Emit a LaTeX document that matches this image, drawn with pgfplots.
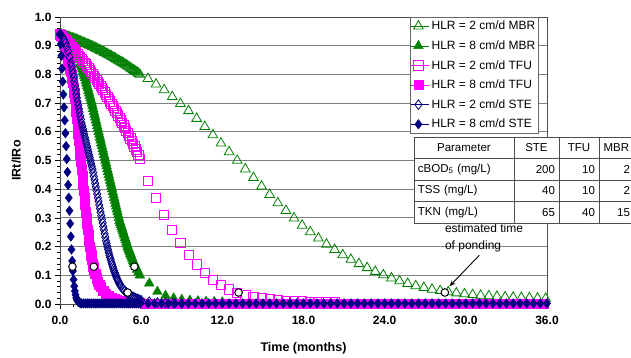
\documentclass[border=0pt]{standalone}
\usepackage{pgfplots}
\pgfplotsset{compat=1.18}
\usepackage{fontspec}
\setmainfont{Liberation Sans}
\usetikzlibrary{matrix,arrows.meta}
\definecolor{mgreen}{RGB}{0,128,0}
\definecolor{mmag}{RGB}{255,0,255}
\definecolor{mnavy}{RGB}{0,0,128}
\definecolor{gridgray}{RGB}{128,128,128}
\begin{document}
\begin{tikzpicture}
\useasboundingbox (-60pt,-54pt) rectangle (571pt,304pt);
\begin{axis}[
 at={(0,0)}, anchor=south west,
 scale only axis, width=487pt, height=287pt,
 xmin=0, xmax=36, ymin=0, ymax=1,
 clip=false,
 xtick={0,6,12,18,24,30,36},
 ytick={0,0.1,0.2,0.3,0.4,0.5,0.6,0.7,0.8,0.9,1},
 minor x tick num=5, minor y tick num=4,
 tick pos=left, tick align=outside,
 major tick length=5pt, minor tick length=3pt,
 ymajorgrids, grid style={gridgray, line width=0.8pt},
 axis line style={gridgray!60!black, line width=0.8pt},
 tick style={black, line width=0.6pt},
 /pgf/number format/fixed, /pgf/number format/fixed zerofill,
 /pgf/number format/precision=1, /pgf/number format/assume math mode=true,
 tick label style={font=\bfseries\fontsize{12}{14}\selectfont},
 xticklabel style={yshift=-4pt},
 xlabel={Time (months)}, ylabel={IRt/IRo},
 label style={font=\bfseries\fontsize{12.5}{14}\selectfont},
 xlabel style={at={(axis description cs:0.5,-0.153)}, anchor=center},
 ylabel style={at={(axis description cs:-0.09,0.5)}, anchor=center},
 legend style={at={(rel axis cs:0.7187,1)}, anchor=north west, draw=gray!80!black, fill=white,
   font=\fontsize{12}{14}\selectfont, inner xsep=1pt, inner ysep=2pt, row sep=5.4pt},
 legend cell align=left,
 legend image code/.code={\path (0pt,0pt) -- (18pt,0pt); \draw[#1] plot coordinates {(7pt,0pt)};},
]
% HLR = 2 cm/d MBR
\addplot[only marks, mark=triangle, mark size=5.6pt, mgreen, mark options={line width=0.8pt}] coordinates {
(0,0.940)(0.1,0.939)(0.2,0.937)(0.3,0.936)(0.4,0.934)(0.5,0.933)(0.6,0.931)(0.7,0.929)(0.8,0.928)(0.9,0.926)(1.0,0.925)(1.1,0.923)(1.2,0.921)(1.3,0.919)(1.4,0.917)(1.5,0.915)(1.6,0.913)(1.7,0.911)(1.8,0.909)(1.9,0.907)(2.0,0.905)(2.1,0.903)(2.2,0.901)(2.3,0.899)(2.4,0.897)(2.5,0.895)(2.6,0.892)(2.7,0.890)(2.8,0.888)(2.9,0.885)(3.0,0.883)(3.1,0.881)(3.2,0.878)(3.3,0.876)(3.4,0.873)(3.5,0.871)(3.6,0.868)(3.7,0.866)(3.8,0.863)(3.9,0.860)(4.0,0.858)(4.1,0.855)(4.2,0.852)(4.3,0.849)(4.4,0.846)(4.5,0.844)(4.6,0.841)(4.7,0.838)(4.8,0.835)(4.9,0.832)(5.0,0.829)(5.1,0.826)(5.2,0.822)(5.3,0.819)(5.4,0.816)(5.5,0.813)(5.6,0.810)(5.7,0.807)(5.8,0.803)(5.9,0.800)
(6.5,0.785)(7.1,0.766)(7.7,0.746)(8.3,0.722)(8.9,0.698)(9.5,0.673)(10.1,0.646)(10.7,0.618)(11.3,0.589)(11.9,0.560)(12.5,0.530)(13.1,0.500)(13.7,0.470)(14.3,0.440)(14.9,0.410)(15.5,0.381)(16.1,0.352)(16.7,0.325)(17.3,0.299)(17.9,0.274)(18.5,0.251)(19.1,0.229)(19.7,0.208)(20.3,0.189)(20.9,0.171)(21.5,0.155)(22.1,0.140)(22.7,0.126)(23.3,0.113)(23.9,0.101)(24.5,0.090)(25.1,0.080)(25.7,0.071)(26.3,0.063)(26.9,0.057)(27.5,0.051)(28.1,0.046)(28.7,0.042)(29.3,0.038)(29.9,0.035)(30.5,0.032)(31.1,0.030)(31.7,0.028)(32.3,0.026)(32.9,0.024)(33.5,0.023)(34.1,0.022)(34.7,0.021)(35.3,0.020)(35.9,0.019)
};
\addlegendentry{HLR = 2 cm/d MBR}
% HLR = 8 cm/d MBR
\addplot[only marks, mark=triangle*, mark size=5.6pt, mgreen, mark options={fill=mgreen}] coordinates {
(0.0,0.940)(0.1,0.938)(0.2,0.935)(0.3,0.933)(0.4,0.930)(0.5,0.925)(0.6,0.920)(0.7,0.915)(0.8,0.910)(0.9,0.903)(1.0,0.895)(1.1,0.885)(1.2,0.875)(1.3,0.863)(1.4,0.850)(1.5,0.838)(1.55,0.832)(1.6,0.825)(1.65,0.818)(1.7,0.810)(1.75,0.803)(1.8,0.795)(1.85,0.787)(1.9,0.778)(1.95,0.769)(2.0,0.760)(2.05,0.752)(2.1,0.743)(2.15,0.734)(2.2,0.725)(2.25,0.717)(2.3,0.708)(2.35,0.699)(2.4,0.690)(2.45,0.680)(2.5,0.670)(2.55,0.660)(2.6,0.650)(2.65,0.640)(2.7,0.630)(2.75,0.620)(2.8,0.610)(2.85,0.600)(2.9,0.590)(2.95,0.580)(3.0,0.570)(3.05,0.560)(3.1,0.550)(3.15,0.540)(3.2,0.530)(3.25,0.520)(3.3,0.510)(3.35,0.500)(3.4,0.490)(3.45,0.480)(3.5,0.470)(3.55,0.460)(3.6,0.450)(3.65,0.440)(3.7,0.430)(3.75,0.420)(3.8,0.410)(3.85,0.400)(3.9,0.390)(3.95,0.380)(4.0,0.370)(4.05,0.360)(4.1,0.350)(4.15,0.340)(4.2,0.330)(4.25,0.320)(4.3,0.310)(4.35,0.300)(4.4,0.290)(4.45,0.283)(4.5,0.275)(4.55,0.268)(4.6,0.260)(4.65,0.253)(4.7,0.245)(4.75,0.238)(4.8,0.230)(4.85,0.223)(4.9,0.215)(4.95,0.208)(5.0,0.200)(5.05,0.194)(5.1,0.188)(5.15,0.182)(5.2,0.175)(5.25,0.169)(5.3,0.163)(5.35,0.157)(5.4,0.150)(5.45,0.145)(5.5,0.140)(5.6,0.130)(5.7,0.120)(5.8,0.110)(5.9,0.100)
(6.6,0.072)(7.2,0.043)(7.8,0.029)(8.4,0.020)(9.0,0.015)(9.6,0.012)(10.2,0.010)(10.8,0.008)(11.4,0.007)(12.0,0.006)
};
\addlegendentry{HLR = 8 cm/d MBR}
% HLR = 2 cm/d TFU
\addplot[only marks, mark=square, mark size=4.6pt, mmag, mark options={line width=0.8pt}] coordinates {
(0.0,0.940)(0.1,0.935)(0.2,0.930)(0.3,0.925)(0.4,0.920)(0.5,0.915)(0.6,0.910)(0.7,0.905)(0.8,0.899)(0.9,0.894)(1.0,0.888)(1.1,0.883)(1.2,0.877)(1.3,0.871)(1.4,0.865)(1.5,0.859)(1.6,0.853)(1.7,0.847)(1.8,0.841)(1.9,0.835)(2.0,0.828)(2.1,0.822)(2.2,0.815)(2.3,0.808)(2.4,0.802)(2.5,0.795)(2.6,0.788)(2.7,0.781)(2.8,0.774)(2.9,0.767)(3.0,0.759)(3.1,0.752)(3.2,0.745)(3.3,0.737)(3.4,0.729)(3.5,0.721)(3.6,0.714)(3.7,0.706)(3.8,0.698)(3.9,0.690)(4.0,0.682)(4.1,0.673)(4.2,0.665)(4.3,0.657)(4.4,0.648)(4.5,0.640)(4.6,0.631)(4.7,0.622)(4.8,0.613)(4.9,0.604)(5.0,0.595)(5.1,0.586)(5.2,0.577)(5.3,0.568)(5.4,0.558)(5.5,0.549)(5.6,0.539)(5.7,0.530)(5.8,0.519)(5.9,0.505)
(6.5,0.430)(7.1,0.370)(7.7,0.310)(8.3,0.258)(8.9,0.212)(9.5,0.172)(10.1,0.138)(10.7,0.108)(11.3,0.084)(11.9,0.066)(12.5,0.051)(13.1,0.040)(13.7,0.032)(14.3,0.026)(14.9,0.021)(15.5,0.017)(16.1,0.014)(16.7,0.012)(17.3,0.010)(17.9,0.009)(18.5,0.008)(19.1,0.007)(19.7,0.006)(20.3,0.006)
};
\addlegendentry{HLR = 2 cm/d TFU}
% HLR = 8 cm/d TFU
\addplot[only marks, mark=square*, mark size=4.6pt, mmag, mark options={fill=mmag}] coordinates {
(0.0,0.940)(0.1,0.930)(0.2,0.920)(0.3,0.905)(0.4,0.890)(0.5,0.870)(0.6,0.850)(0.65,0.840)(0.70,0.830)(0.75,0.820)(0.80,0.810)(0.85,0.800)(0.90,0.785)(0.95,0.770)(1.00,0.755)(1.05,0.735)(1.10,0.715)(1.15,0.695)(1.20,0.670)(1.25,0.645)(1.30,0.620)(1.35,0.595)(1.40,0.570)(1.45,0.545)(1.50,0.520)(1.55,0.495)(1.60,0.470)(1.65,0.445)(1.70,0.420)(1.75,0.395)(1.80,0.370)(1.85,0.345)(1.90,0.320)(1.95,0.300)(2.00,0.280)(2.05,0.260)(2.10,0.240)(2.15,0.220)(2.20,0.200)(2.25,0.185)(2.30,0.170)(2.35,0.155)(2.40,0.140)(2.45,0.130)(2.50,0.120)(2.6,0.105)(2.7,0.090)(2.8,0.078)(2.9,0.068)(3.0,0.060)(3.2,0.047)(3.4,0.037)(3.6,0.029)(3.8,0.023)(4.0,0.018)(4.2,0.014)(4.4,0.011)(4.6,0.009)(4.8,0.007)(5.0,0.006)(5.3,0.005)(5.6,0.004)(5.9,0.004)
(6.25,0.0)(6.75,0.0)(7.25,0.0)(7.75,0.0)(8.25,0.0)(8.75,0.0)(9.25,0.0)(9.75,0.0)(10.25,0.0)(10.75,0.0)(11.25,0.0)(11.75,0.0)(12.25,0.0)(12.75,0.0)(13.25,0.0)(13.75,0.0)(14.25,0.0)(14.75,0.0)(15.25,0.0)(15.75,0.0)(16.25,0.0)(16.75,0.0)(17.25,0.0)(17.75,0.0)(18.25,0.0)(18.75,0.0)(19.25,0.0)(19.75,0.0)(20.25,0.0)(20.75,0.0)(21.25,0.0)(21.75,0.0)(22.25,0.0)(22.75,0.0)(23.25,0.0)(23.75,0.0)(24.25,0.0)(24.75,0.0)(25.25,0.0)(25.75,0.0)(26.25,0.0)(26.75,0.0)(27.25,0.0)(27.75,0.0)(28.25,0.0)(28.75,0.0)(29.25,0.0)(29.75,0.0)(30.25,0.0)(30.75,0.0)(31.25,0.0)(31.75,0.0)(32.25,0.0)(32.75,0.0)(33.25,0.0)(33.75,0.0)(34.25,0.0)(34.75,0.0)(35.25,0.0)(35.75,0.0)
};
\addlegendentry{HLR = 8 cm/d TFU}
% HLR = 2 cm/d STE
\addplot[only marks, mark=diamond, mark size=4.8pt, mnavy, mark options={line width=0.8pt}] coordinates {
(0.0,0.940)(0.1,0.935)(0.2,0.930)(0.3,0.920)(0.4,0.910)(0.5,0.895)(0.6,0.880)(0.7,0.860)(0.8,0.840)(0.85,0.828)(0.9,0.815)(0.95,0.803)(1.0,0.790)(1.05,0.775)(1.1,0.760)(1.15,0.745)(1.2,0.730)(1.25,0.718)(1.3,0.705)(1.35,0.693)(1.4,0.680)(1.45,0.668)(1.5,0.655)(1.55,0.643)(1.6,0.630)(1.65,0.620)(1.7,0.610)(1.75,0.600)(1.8,0.590)(1.85,0.580)(1.9,0.570)(1.95,0.560)(2.0,0.550)(2.05,0.540)(2.1,0.530)(2.15,0.520)(2.2,0.510)(2.25,0.500)(2.3,0.490)(2.35,0.480)(2.4,0.470)(2.45,0.458)(2.5,0.445)(2.55,0.433)(2.6,0.420)(2.65,0.408)(2.7,0.395)(2.75,0.383)(2.8,0.370)(2.85,0.358)(2.9,0.345)(2.95,0.333)(3.0,0.320)(3.05,0.308)(3.1,0.295)(3.15,0.283)(3.2,0.270)(3.25,0.258)(3.3,0.245)(3.35,0.233)(3.4,0.220)(3.45,0.210)(3.5,0.200)(3.55,0.190)(3.6,0.180)(3.65,0.171)(3.7,0.162)(3.75,0.154)(3.8,0.145)(3.85,0.138)(3.9,0.130)(3.95,0.123)(4.0,0.115)(4.05,0.109)(4.1,0.102)(4.15,0.096)(4.2,0.090)(4.25,0.085)(4.3,0.080)(4.35,0.075)(4.4,0.070)(4.45,0.066)(4.5,0.062)(4.6,0.055)(4.7,0.050)(4.8,0.045)(4.9,0.041)(5.0,0.037)(5.1,0.033)(5.2,0.030)(5.3,0.027)(5.4,0.025)(5.5,0.022)(5.6,0.020)(5.7,0.018)(5.8,0.016)(5.9,0.014)(6.0,0.013)
(6.6,0.008)(7.2,0.005)(7.8,0.004)(8.4,0.003)(9.0,0.002)
};
\addlegendentry{HLR = 2 cm/d STE}
% HLR = 8 cm/d STE
\addplot[only marks, mark=diamond*, mark size=4.8pt, mnavy, mark options={fill=mnavy}] coordinates {
(0.00,0.940)(0.05,0.905)(0.10,0.865)(0.15,0.820)(0.20,0.775)(0.25,0.730)(0.30,0.685)(0.35,0.640)(0.40,0.595)(0.45,0.550)(0.50,0.505)(0.55,0.460)(0.60,0.415)(0.65,0.370)(0.70,0.325)(0.75,0.280)(0.80,0.235)(0.85,0.190)(0.90,0.150)(0.95,0.115)(1.00,0.085)(1.05,0.062)(1.10,0.045)(1.15,0.032)(1.20,0.022)(1.25,0.015)(1.30,0.010)(1.40,0.006)(1.50,0.003)
(1.6,0.002)(1.75,0.002)(1.9,0.002)(2.05,0.002)(2.2,0.002)(2.35,0.002)(2.5,0.002)(2.65,0.002)(2.8,0.002)(2.95,0.002)(3.1,0.002)(3.25,0.002)(3.4,0.002)(3.55,0.002)(3.7,0.002)(3.85,0.002)(4.0,0.002)(4.15,0.002)(4.3,0.002)(4.45,0.002)(4.6,0.002)(4.75,0.002)(4.9,0.002)(5.05,0.002)(5.2,0.002)(5.35,0.002)(5.5,0.002)(5.65,0.002)(5.8,0.002)(5.95,0.002)
(6.5,0.002)(7.0,0.002)(7.5,0.002)(8.0,0.002)(8.5,0.002)(9.0,0.002)(9.5,0.002)(10.0,0.002)(10.5,0.002)(11.0,0.002)(11.5,0.002)(12.0,0.002)(12.5,0.002)(13.0,0.002)(13.5,0.002)(14.0,0.002)(14.5,0.002)(15.0,0.002)(15.5,0.002)(16.0,0.002)(16.5,0.002)(17.0,0.002)(17.5,0.002)(18.0,0.002)(18.5,0.002)(19.0,0.002)(19.5,0.002)(20.0,0.002)(20.5,0.002)(21.0,0.002)(21.5,0.002)(22.0,0.002)(22.5,0.002)(23.0,0.002)(23.5,0.002)(24.0,0.002)(24.5,0.002)(25.0,0.002)(25.5,0.002)(26.0,0.002)(26.5,0.002)(27.0,0.002)(27.5,0.002)(28.0,0.002)(28.5,0.002)(29.0,0.002)(29.5,0.002)(30.0,0.002)(30.5,0.002)(31.0,0.002)(31.5,0.002)(32.0,0.002)(32.5,0.002)(33.0,0.002)(33.5,0.002)(34.0,0.002)(34.5,0.002)(35.0,0.002)(35.5,0.002)(36.0,0.002)
};
\addlegendentry{HLR = 8 cm/d STE}
% estimated time of ponding
\addplot[only marks, mark=*, mark size=3.8pt, mark options={fill=white, draw=black, line width=1pt}, forget plot] coordinates {
(0.92,0.13)(2.5,0.13)(5.5,0.13)(5.0,0.04)(13.2,0.04)(28.45,0.04)
};
\node[anchor=north west, inner sep=0pt, align=left, font=\fontsize{12}{16.5}\selectfont] at (axis cs:28.45,0.279) {estimated time\\of ponding};
\draw[-{Stealth[length=6pt,width=5pt]}, line width=0.9pt] (axis cs:31.0,0.170) -- (axis cs:28.8,0.062);
\end{axis}
\matrix[matrix of nodes, anchor=north west, column sep=-0.8pt, row sep=-0.8pt,
  nodes={draw=gray!60!black, fill=white, line width=0.8pt, minimum height=21.5pt, inner xsep=4pt, inner ysep=0pt, font=\fontsize{11.5}{13}\selectfont, anchor=center},
  column 1/.style={nodes={text width=92pt, align=left}},
  column 2/.style={nodes={text width=37pt, align=right}},
  column 3/.style={nodes={text width=32pt, align=right}},
  column 4/.style={nodes={text width=27pt, align=right}},
  row 1/.style={nodes={align=center}}] at (350pt,171pt) {
Parameter & STE & TFU & MBR \\
cBOD\textsubscript{5} (mg/L) & 200 & 10 & 2 \\
TSS (mg/L) & 40 & 10 & 2 \\
TKN (mg/L) & 65 & 40 & 15 \\
};
\end{tikzpicture}
\end{document}
